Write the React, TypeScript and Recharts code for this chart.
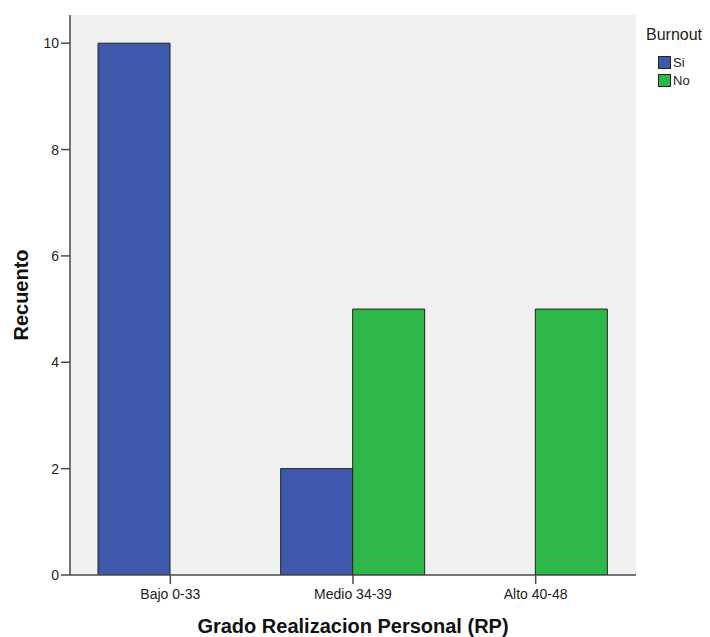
import React from 'react';
import {
  BarChart,
  Bar,
  XAxis,
  YAxis,
  CartesianGrid,
  Legend,
} from 'recharts';

const categories = ['Bajo 0-33', 'Medio 34-39', 'Alto 40-48'];
const siValues = [10, 2, 0];
const noValues = [0, 5, 5];
const seriesOrder = ['Si', 'No'];
const yTicks = [0, 2, 4, 6, 8, 10];

const FONT = '"Liberation Sans", Arial, sans-serif';
const AXIS = '#4a4a4a';

const data = categories.map((c, i) => ({ name: c, Si: siValues[i], No: noValues[i] }));

const renderLegend = (props: any) => {
  const items = [...(props.payload || [])].sort(
    (a: any, b: any) => seriesOrder.indexOf(a.value) - seriesOrder.indexOf(b.value)
  );
  return (
    <div style={{ fontFamily: FONT, color: '#222', textAlign: 'left' }}>
      <div style={{ fontSize: 16, lineHeight: '18px' }}>Burnout</div>
      <div style={{ marginTop: 9 }}>
        {items.map((it: any) => (
          <div key={it.value} style={{ display: 'flex', alignItems: 'center', height: 18.5, marginLeft: 12 }}>
            <span
              style={{
                display: 'inline-block',
                width: 11,
                height: 11,
                background: it.color,
                border: '1px solid #222',
                marginRight: 2,
              }}
            />
            <span style={{ fontSize: 13 }}>{it.value}</span>
          </div>
        ))}
      </div>
    </div>
  );
};

export default function App() {
  return (
    <div style={{ position: 'absolute', left: 0, top: 0, width: 710, height: 637, background: '#fff' }}>
      <BarChart
        width={710}
        height={637}
        data={data}
        barGap={0}
        margin={{ top: 15, right: 74, left: 0, bottom: 0 }}
      >
        <CartesianGrid fill="#f0f0f0" horizontal={false} vertical={false} />
        <XAxis
          dataKey="name"
          height={62}
          padding={{ left: 9, right: 9 }}
          tickSize={9}
          tickMargin={5}
          tick={{ fill: '#222', fontSize: 14, fontFamily: FONT }}
          tickLine={{ stroke: AXIS, strokeWidth: 1.5 }}
          axisLine={{ stroke: AXIS, strokeWidth: 1.5 }}
          label={{
            content: ({ viewBox }: any) => (
              <text
                x={viewBox.x + viewBox.width / 2}
                y={viewBox.y + 58}
                textAnchor="middle"
                fontSize={20}
                fontWeight="bold"
                fontFamily={FONT}
                fill="#111"
              >
                Grado Realizacion Personal (RP)
              </text>
            ),
          }}
        />
        <XAxis
          xAxisId="top"
          dataKey="name"
          orientation="top"
          height={0}
          tick={false}
          tickLine={false}
          axisLine={{ stroke: '#7a7a7a', strokeWidth: 1.5 }}
        />
        <YAxis
          type="number"
          domain={[0, 10.53]}
          ticks={yTicks}
          width={70}
          tickSize={9}
          tickMargin={2}
          tick={{ fill: '#222', fontSize: 14, fontFamily: FONT }}
          tickLine={{ stroke: AXIS, strokeWidth: 1.5 }}
          axisLine={{ stroke: AXIS, strokeWidth: 1.5 }}
          allowDataOverflow
          label={{
            content: ({ viewBox }: any) => {
              const cx = viewBox.x + 21;
              const cy = viewBox.y + viewBox.height / 2;
              return (
                <text
                  x={cx}
                  y={cy}
                  transform={`rotate(-90, ${cx}, ${cy})`}
                  textAnchor="middle"
                  dominantBaseline="central"
                  fontSize={20}
                  fontWeight="bold"
                  fontFamily={FONT}
                  fill="#111"
                >
                  Recuento
                </text>
              );
            },
          }}
        />
        <YAxis
          yAxisId="right"
          orientation="right"
          type="number"
          domain={[0, 1]}
          width={0}
          tick={false}
          tickLine={false}
          axisLine={{ stroke: '#7a7a7a', strokeWidth: 1.5 }}
        />
        <Legend
          layout="vertical"
          align="center"
          verticalAlign="middle"
          content={renderLegend}
          wrapperStyle={{ position: 'absolute', left: 646, top: 26, width: 64 }}
        />
        <Bar dataKey="Si" name="Si" fill="#3e58ac" stroke="#222" strokeWidth={1} barSize={72} isAnimationActive={false} />
        <Bar dataKey="No" name="No" fill="#2fb84a" stroke="#222" strokeWidth={1} barSize={72} isAnimationActive={false} />
      </BarChart>
    </div>
  );
}
